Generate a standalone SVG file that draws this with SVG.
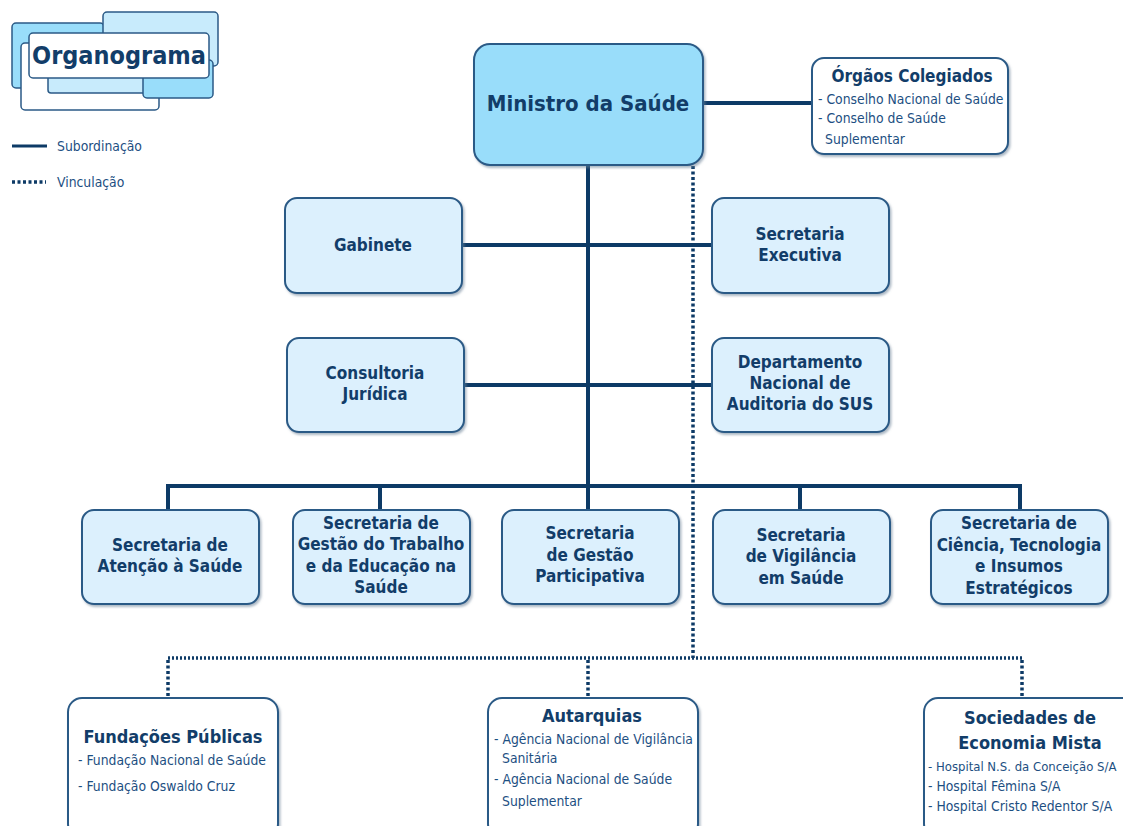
<svg xmlns="http://www.w3.org/2000/svg" width="1123" height="826" viewBox="0 0 1123 826">
<defs>
<filter id="sh" x="-10%" y="-10%" width="125%" height="130%">
<feDropShadow dx="1.5" dy="2" stdDeviation="1.2" flood-color="#6a7f94" flood-opacity="0.55"/>
</filter>
</defs>
<style>
.box{fill:#dcf0fd;stroke:#2b5a86;stroke-width:2;filter:url(#sh)}
.main{fill:#99ddfa;stroke:#2b5a86;stroke-width:2;filter:url(#sh)}
.wbox{fill:#ffffff;stroke:#2b5a86;stroke-width:2;filter:url(#sh)}
.t{font-family:"DejaVu Sans Condensed","DejaVu Sans",sans-serif;font-weight:bold;fill:#123d69;text-anchor:middle;font-size:17px}
.s{font-family:"DejaVu Sans Condensed","DejaVu Sans",sans-serif;fill:#1d4f82;font-size:13.8px}
.sol{stroke:#0d3a66;stroke-width:4;fill:none}
.dot{stroke:#0d3a66;stroke-width:3.5;fill:none;stroke-dasharray:3 2.5}
.lg{fill:#c8ebfc;stroke:#2b5a86;stroke-width:1.5}
.dk{fill:#99ddfa;stroke:#2b5a86;stroke-width:1.5}
</style>
<rect width="1123" height="826" fill="#ffffff"/>

<g id="logo">
<rect class="dk" x="12" y="23" width="92" height="65" rx="4"/>
<rect class="lg" x="103" y="12" width="115" height="54" rx="4"/>
<rect x="21" y="43" width="138" height="67" rx="4" fill="#ffffff" stroke="#2b5a86" stroke-width="1.5"/>
<rect class="lg" x="48" y="62" width="100" height="31" rx="3"/>
<rect class="dk" x="143" y="60" width="70" height="38" rx="4"/>
<rect x="29" y="33" width="180" height="45" rx="4" fill="#ffffff" stroke="#2b5a86" stroke-width="1.5"/>
<text x="119" y="64" text-anchor="middle" font-family="DejaVu Sans Condensed,DejaVu Sans,sans-serif" font-weight="bold" font-size="25" fill="#123d69">Organograma</text>
</g>

<g id="legend">
<line class="sol" x1="12" y1="146" x2="47" y2="146" style="stroke-width:3"/>
<text class="s" x="57" y="151">Subordinação</text>
<line class="dot" x1="12" y1="182" x2="46" y2="182" style="stroke-width:3.5"/>
<text class="s" x="57" y="187">Vinculação</text>
</g>

<g id="connectors">
<line class="sol" x1="703" y1="103" x2="812" y2="103"/>
<line class="sol" x1="588" y1="165" x2="588" y2="486"/>
<line class="sol" x1="462" y1="245" x2="712" y2="245"/>
<line class="sol" x1="464" y1="385" x2="712" y2="385"/>
<path class="sol" d="M168 510 V486 H1020 V510 M380 486 V510 M588 486 V510 M800 486 V510"/>
<line class="dot" x1="693" y1="166" x2="693" y2="658"/>
<line class="dot" x1="168" y1="658" x2="1022" y2="658" style="stroke-dasharray:2 2"/>
<line class="dot" x1="168" y1="660" x2="168" y2="697"/>
<line class="dot" x1="588" y1="660" x2="588" y2="697"/>
<line class="dot" x1="1022" y1="660" x2="1022" y2="697"/>
</g>

<g id="ministro">
<rect class="main" x="474" y="44" width="229" height="121" rx="16"/>
<text class="t" x="588" y="111" style="font-size:22px">Ministro da Saúde</text>
</g>

<g id="orgaos">
<rect class="wbox" x="812" y="58" width="196" height="96" rx="12"/>
<text class="t" x="912" y="82">Órgãos Colegiados</text>
<text class="s" x="818" y="104">- Conselho Nacional de Saúde</text>
<text class="s" x="818" y="123">- Conselho de Saúde</text>
<text class="s" x="825" y="144">Suplementar</text>
</g>

<g id="gabinete">
<rect class="box" x="285" y="198" width="177" height="95" rx="12"/>
<text class="t" x="373" y="251">Gabinete</text>
</g>
<g id="sec-executiva">
<rect class="box" x="712" y="198" width="177" height="95" rx="12"/>
<text class="t" x="800" y="240">Secretaria</text>
<text class="t" x="800" y="261">Executiva</text>
</g>
<g id="consultoria">
<rect class="box" x="287" y="338" width="177" height="94" rx="12"/>
<text class="t" x="375" y="379">Consultoria</text>
<text class="t" x="375" y="400">Jurídica</text>
</g>
<g id="denasus">
<rect class="box" x="712" y="338" width="177" height="94" rx="12"/>
<text class="t" x="800" y="368">Departamento</text>
<text class="t" x="800" y="389">Nacional de</text>
<text class="t" x="800" y="410">Auditoria do SUS</text>
</g>

<g id="sas">
<rect class="box" x="82" y="510" width="177" height="94" rx="12"/>
<text class="t" x="170" y="551">Secretaria de</text>
<text class="t" x="170" y="572">Atenção à Saúde</text>
</g>
<g id="sgtes">
<rect class="box" x="293" y="510" width="177" height="94" rx="12"/>
<text class="t" x="381" y="529">Secretaria de</text>
<text class="t" x="381" y="550">Gestão do Trabalho</text>
<text class="t" x="381" y="572">e da Educação na</text>
<text class="t" x="381" y="593">Saúde</text>
</g>
<g id="sgep">
<rect class="box" x="502" y="510" width="177" height="94" rx="12"/>
<text class="t" x="590" y="539">Secretaria</text>
<text class="t" x="590" y="561">de Gestão</text>
<text class="t" x="590" y="582">Participativa</text>
</g>
<g id="svs">
<rect class="box" x="713" y="510" width="177" height="94" rx="12"/>
<text class="t" x="801" y="541">Secretaria</text>
<text class="t" x="801" y="562">de Vigilância</text>
<text class="t" x="801" y="584">em Saúde</text>
</g>
<g id="sctie">
<rect class="box" x="931" y="510" width="177" height="94" rx="12"/>
<text class="t" x="1019" y="529">Secretaria de</text>
<text class="t" x="1019" y="551">Ciência, Tecnologia</text>
<text class="t" x="1019" y="572">e Insumos</text>
<text class="t" x="1019" y="594">Estratégicos</text>
</g>

<g id="fundacoes">
<rect class="wbox" x="68" y="698" width="210" height="140" rx="14"/>
<text class="t" x="173" y="743" style="font-size:18px">Fundações Públicas</text>
<text class="s" x="78" y="765">- Fundação Nacional de Saúde</text>
<text class="s" x="78" y="791">- Fundação Oswaldo Cruz</text>
</g>
<g id="autarquias">
<rect class="wbox" x="488" y="698" width="210" height="140" rx="14"/>
<text class="t" x="592" y="722" style="font-size:18px">Autarquias</text>
<text class="s" x="494" y="744">- Agência Nacional de Vigilância</text>
<text class="s" x="502" y="763">Sanitária</text>
<text class="s" x="494" y="784">- Agência Nacional de Saúde</text>
<text class="s" x="502" y="806">Suplementar</text>
</g>
<g id="sociedades">
<rect class="wbox" x="924" y="698" width="220" height="140" rx="14"/>
<text class="t" x="1030" y="724" style="font-size:18px">Sociedades de</text>
<text class="t" x="1030" y="749" style="font-size:18px">Economia Mista</text>
<text class="s" x="928" y="771" style="font-size:13px">- Hospital N.S. da Conceição S/A</text>
<text class="s" x="928" y="791">- Hospital Fêmina S/A</text>
<text class="s" x="928" y="811">- Hospital Cristo Redentor S/A</text>
</g>
</svg>
